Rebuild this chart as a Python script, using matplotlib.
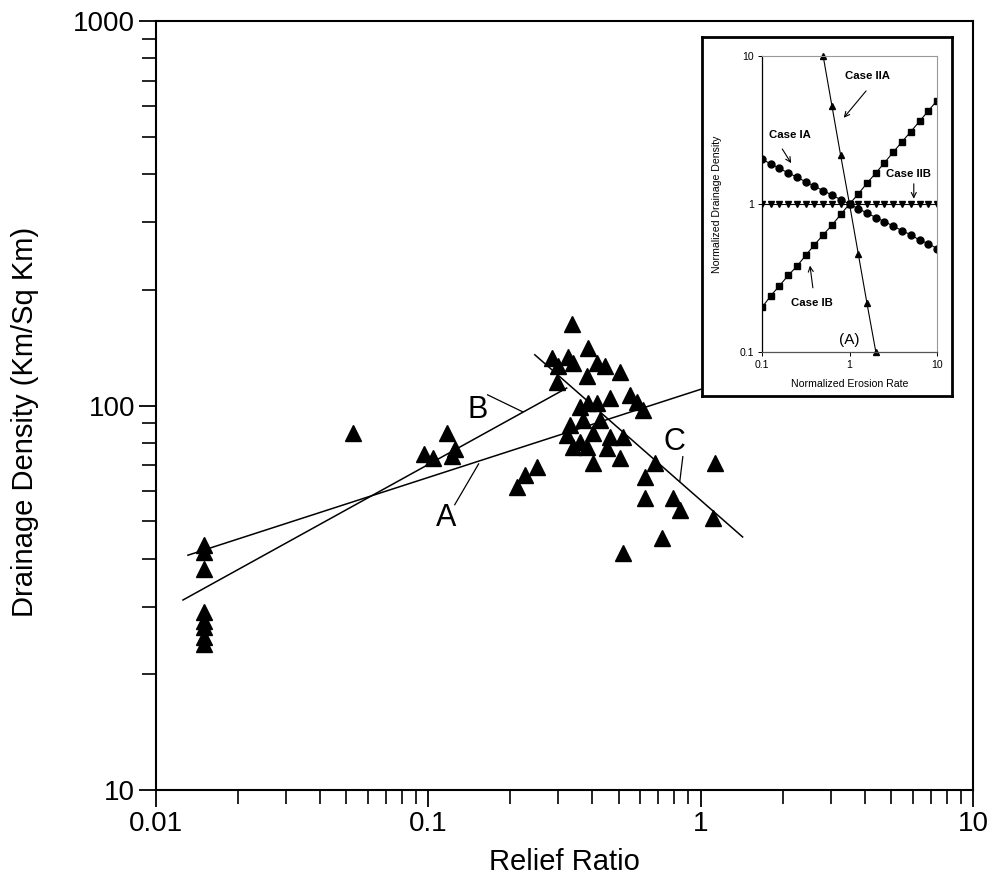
import matplotlib
matplotlib.use("Agg")
import matplotlib.pyplot as plt
from matplotlib.ticker import FixedLocator, LogLocator, NullFormatter, FuncFormatter

plt.rcParams['font.family'] = ['Liberation Sans', 'DejaVu Sans']

# Basin data: relief ratio vs. drainage density
relief_ratio = [
    0.015, 0.015, 0.015, 0.015, 0.015, 0.015, 0.015, 0.015,
    0.053, 0.117, 0.096, 0.104, 0.125, 0.122,
    0.336, 0.385, 0.284, 0.325, 0.299, 0.339, 0.415, 0.444, 0.505,
    0.296, 0.382, 0.385, 0.360, 0.415, 0.463, 0.548, 0.582, 0.612,
    0.330, 0.369, 0.426, 0.322, 0.360, 0.401, 0.463, 0.517,
    0.339, 0.382, 0.452, 0.505, 0.402, 0.678, 1.126,
    0.622, 0.622, 0.789, 0.838, 1.107, 0.720, 0.517,
    0.250, 0.226, 0.211,
]
drainage_density = [
    43.5, 41.5, 37.5, 29.0, 27.5, 26.5, 25.0, 24.0,
    85.0, 85.0, 75.0, 73.0, 77.0, 74.0,
    163.0, 141.0, 133.0, 134.0, 127.0, 129.0, 129.0, 127.0, 122.0,
    115.0, 119.0, 101.6, 99.0, 101.6, 104.7, 106.6, 102.0, 97.5,
    89.0, 91.8, 91.8, 84.0, 80.5, 84.9, 83.0, 83.0,
    78.1, 78.1, 77.6, 73.0, 71.0, 71.0, 71.0,
    65.0, 57.5, 57.5, 53.5, 51.0, 45.3, 41.4,
    69.0, 66.0, 61.5,
]

# Regression lines (end points)
fit_a_x = [0.0131, 1.3]
fit_a_y = [40.8, 117.0]
fit_b_x = [0.01256, 0.322]
fit_b_y = [31.2, 111.0]
fit_c_x = [0.246, 1.426]
fit_c_y = [135.5, 45.5]

x_ticks = [0.01, 0.1, 1, 10]
y_ticks = [10, 100, 1000]

# Model curves: normalized drainage density vs normalized erosion rate
erosion_rate = [0.1, 0.126, 0.158, 0.2, 0.251, 0.316, 0.398, 0.501, 0.631, 0.794,
                1.0, 1.26, 1.58, 2.0, 2.51, 3.16, 3.98, 5.01, 6.31, 7.94, 10.0]
case_ia = [2.0, 1.87, 1.74, 1.62, 1.52, 1.41, 1.32, 1.23, 1.15, 1.07,
           1.0, 0.93, 0.87, 0.81, 0.76, 0.71, 0.66, 0.62, 0.57, 0.54, 0.5]
case_ib = [0.2, 0.24, 0.28, 0.33, 0.38, 0.45, 0.53, 0.62, 0.72, 0.85,
           1.0, 1.17, 1.38, 1.62, 1.9, 2.24, 2.63, 3.08, 3.62, 4.25, 5.0]
case_iib = [1.0, 1.0, 1.0, 1.0, 1.0, 1.0, 1.0, 1.0, 1.0, 1.0,
            1.0, 1.0, 1.0, 1.0, 1.0, 1.0, 1.0, 1.0, 1.0, 1.0, 1.0]
case_iia_x = [0.5, 0.63, 0.79, 1.0, 1.26, 1.58, 2.0]
case_iia_y = [10.0, 4.6, 2.15, 1.0, 0.46, 0.215, 0.1]
inset_ticks = [0.1, 1, 10]

W, H = 992, 876
fig = plt.figure(figsize=(W / 100, H / 100), dpi=100)

# ---------------- main panel ----------------
ax = fig.add_axes([156 / W, 1 - 790 / H, (973 - 156) / W, (790 - 21) / H])
ax.set_xscale('log')
ax.set_yscale('log')
ax.set_xlim(0.01, 10)
ax.set_ylim(10, 1000)

ax.plot(fit_a_x, fit_a_y, color='black', lw=1.1, zorder=2)
ax.plot(fit_b_x, fit_b_y, color='black', lw=1.1, zorder=2)
ax.plot(fit_c_x, fit_c_y, color='black', lw=1.1, zorder=2)
ax.plot(relief_ratio, drainage_density, linestyle='none', marker='^',
        ms=11.5, color='black', zorder=3)

# line labels with leaders
ax.plot([0.165, 0.222], [106.6, 96.3], color='black', lw=0.9)
ax.text(0.152, 97.5, 'B', fontsize=22, ha='center', va='center')
ax.plot([0.125, 0.153], [55.2, 70.5], color='black', lw=0.9)
ax.text(0.116, 51.0, 'A', fontsize=22, ha='center', va='center')
ax.plot([0.86, 0.838], [73.6, 63.4], color='black', lw=0.9)
ax.text(0.804, 80.5, 'C', fontsize=22, ha='center', va='center')

fmt = FuncFormatter(lambda v, p: f'{v:g}')
ax.xaxis.set_major_locator(FixedLocator(x_ticks))
ax.yaxis.set_major_locator(FixedLocator(y_ticks))
ax.xaxis.set_minor_locator(LogLocator(base=10, subs=range(2, 10)))
ax.yaxis.set_minor_locator(LogLocator(base=10, subs=range(2, 10)))
ax.xaxis.set_major_formatter(fmt)
ax.yaxis.set_major_formatter(fmt)
ax.xaxis.set_minor_formatter(NullFormatter())
ax.yaxis.set_minor_formatter(NullFormatter())
ax.tick_params(which='major', direction='out', length=12, width=1.3,
               labelsize=20, pad=3, colors='black')
ax.tick_params(which='minor', direction='out', length=10, width=1.2)
for s in ax.spines.values():
    s.set_linewidth(1.5)

ax.set_xlabel('Relief Ratio', fontsize=21, labelpad=8)
ax.set_ylabel('Drainage Density (Km/Sq Km)', fontsize=21, va='center', ha='center')
ax.yaxis.set_label_coords(-0.160, 0.478)

# ---------------- inset panel ----------------
frame = fig.add_axes([702 / W, 1 - 396 / H, 250 / W, 359 / H])
frame.set_xticks([])
frame.set_yticks([])
frame.set_facecolor('white')
for s in frame.spines.values():
    s.set_linewidth(2.0)
    s.set_color('black')

iax = fig.add_axes([762 / W, 1 - 352 / H, 175 / W, 296 / H])
iax.set_xscale('log')
iax.set_yscale('log')
iax.set_xlim(0.1, 10)
iax.set_ylim(0.1, 10)
iax.patch.set_alpha(0)

iax.plot(erosion_rate, case_ia, color='black', lw=0.8, marker='o', ms=5.0)
iax.plot(erosion_rate, case_ib, color='black', lw=0.8, marker='s', ms=4.2)
iax.plot(erosion_rate, case_iib, color='black', lw=0.8, marker='v', ms=5.0)
iax.plot(case_iia_x, case_iia_y, color='black', lw=0.8, marker='^', ms=5.0,
         clip_on=False)

iax.xaxis.set_major_locator(FixedLocator(inset_ticks))
iax.yaxis.set_major_locator(FixedLocator(inset_ticks))
iax.xaxis.set_minor_locator(FixedLocator([]))
iax.yaxis.set_minor_locator(FixedLocator([]))
iax.xaxis.set_major_formatter(fmt)
iax.yaxis.set_major_formatter(fmt)
iax.tick_params(which='major', direction='out', length=3, width=0.7,
                labelsize=7.6, pad=3)
iax.spines['left'].set_linewidth(0.9)
iax.spines['bottom'].set_linewidth(0.9)
iax.spines['bottom'].set_color('#555555')
iax.spines['top'].set_color('#999999')
iax.spines['right'].set_color('#999999')
iax.spines['top'].set_linewidth(0.8)
iax.spines['right'].set_linewidth(0.8)
iax.set_xlabel('Normalized Erosion Rate', fontsize=7.6, labelpad=6)
iax.set_ylabel('Normalized Drainage Density', fontsize=7.6, labelpad=12)

arrow = dict(arrowstyle='->', lw=0.8, color='black', mutation_scale=9)
iax.text(1.62, 7.3, 'Case IIA', fontsize=8.2, fontweight='bold',
         ha='center', va='center')
iax.annotate('', xy=(0.82, 3.7), xytext=(1.62, 6.0), arrowprops=arrow)
iax.text(0.209, 2.94, 'Case IA', fontsize=8.2, fontweight='bold',
         ha='center', va='center')
iax.annotate('', xy=(0.224, 1.82), xytext=(0.164, 2.44), arrowprops=arrow)
iax.text(4.75, 1.59, 'Case IIB', fontsize=8.2, fontweight='bold',
         ha='center', va='center')
iax.annotate('', xy=(5.43, 1.04), xytext=(5.43, 1.43), arrowprops=arrow)
iax.text(0.367, 0.216, 'Case IB', fontsize=8.2, fontweight='bold',
         ha='center', va='center')
iax.annotate('', xy=(0.35, 0.40), xytext=(0.385, 0.26), arrowprops=arrow)
iax.text(0.99, 0.12, '(A)', fontsize=11, ha='center', va='center')

fig.savefig('out.png', dpi=100)
